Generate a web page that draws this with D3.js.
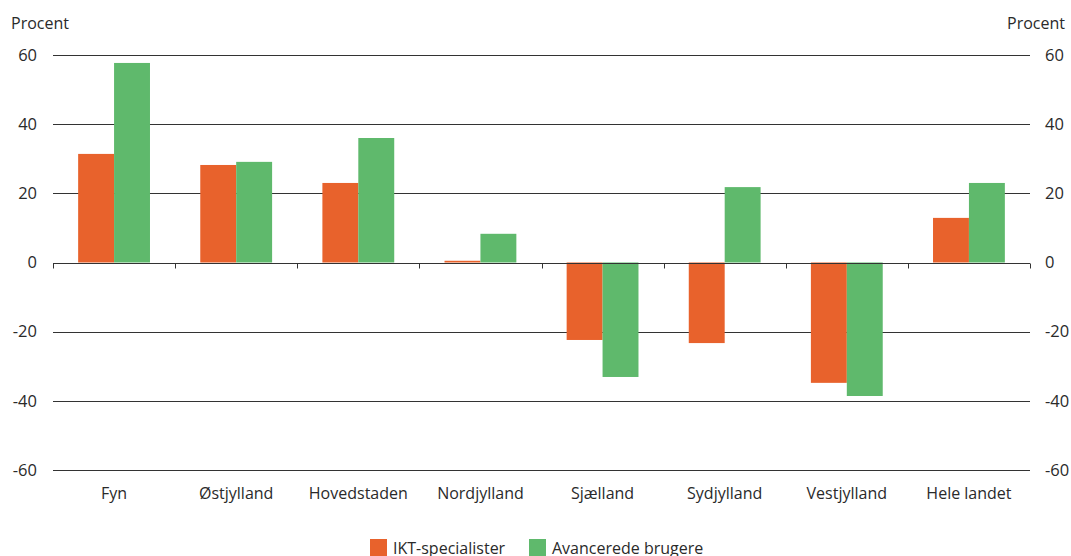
<!DOCTYPE html>
<html>
<head>
<meta charset="utf-8">
<script src="https://cdn.jsdelivr.net/npm/d3@7"></script>
<style>
  body { margin: 0; background: #fff; }
  svg text { font-family: "Open Sans", "Noto Sans", sans-serif; fill: #2a2a2a; }
</style>
</head>
<body>
<div id="chart"></div>
<script>
const regions = ["Fyn", "Østjylland", "Hovedstaden", "Nordjylland", "Sjælland", "Sydjylland", "Vestjylland", "Hele landet"];
const ikt = [31.4, 28.2, 23.0, 0.5, -22.4, -23.3, -34.8, 12.9];
const avanceret = [57.7, 29.1, 36.0, 8.3, -33.1, 21.8, -38.6, 23.0];
const seriesNames = ["IKT-specialister", "Avancerede brugere"];
const yTicks = [-60, -40, -20, 0, 20, 40, 60];

const width = 1071, height = 556,
  margin = {top: 55, bottom: 86, left: 53, right: 41};
const colors = ["#e8622c", "#5fb96c"];

const svg = d3.select("#chart").append("svg")
  .attr("width", width)
  .attr("height", height);

const x = d3.scaleBand()
  .domain(regions)
  .range([margin.left, width - margin.right])
  .paddingInner(0)
  .paddingOuter(0);

const inner = d3.scaleBand()
  .domain([0, 1])
  .range([0, x.bandwidth()])
  .paddingOuter(0.7)
  .paddingInner(0);

const y = d3.scaleLinear()
  .domain([-60, 60])
  .range([height - margin.bottom, margin.top]);

// gridlines
svg.append("g")
  .selectAll("line")
  .data(yTicks)
  .join("line")
  .attr("x1", margin.left)
  .attr("x2", width - margin.right)
  .attr("y1", d => Math.round(y(d)) + 0.5)
  .attr("y2", d => Math.round(y(d)) + 0.5)
  .attr("stroke", "#333")
  .attr("stroke-width", 1);

// left and right tick labels
svg.append("g")
  .selectAll("text")
  .data(yTicks)
  .join("text")
  .attr("x", 37)
  .attr("y", d => y(d))
  .attr("dy", "0.35em")
  .attr("text-anchor", "end")
  .style("font-size", "16.5px")
  .text(d => d);

svg.append("g")
  .selectAll("text")
  .data(yTicks)
  .join("text")
  .attr("x", 1045)
  .attr("y", d => y(d))
  .attr("dy", "0.35em")
  .attr("text-anchor", "start")
  .style("font-size", "16.5px")
  .text(d => d);

svg.append("text")
  .attr("x", 11).attr("y", 29)
  .style("font-size", "16px")
  .text("Procent");
svg.append("text")
  .attr("x", 1065).attr("y", 29)
  .attr("text-anchor", "end")
  .style("font-size", "16px")
  .text("Procent");

// bars
const data = regions.map((r, i) => ({region: r, values: [ikt[i], avanceret[i]]}));

const groups = svg.append("g")
  .selectAll("g")
  .data(data)
  .join("g")
  .attr("transform", d => `translate(${x(d.region)},0)`);

groups.selectAll("rect")
  .data(d => d.values.map((v, k) => ({k, v})))
  .join("rect")
  .attr("x", d => inner(d.k))
  .attr("width", inner.bandwidth())
  .attr("y", d => y(Math.max(0, d.v)))
  .attr("height", d => Math.abs(y(d.v) - y(0)))
  .attr("fill", d => colors[d.k]);

// zero axis with ticks at band edges
const zeroY = Math.round(y(0)) + 0.5;
svg.append("line")
  .attr("x1", margin.left).attr("x2", width - margin.right)
  .attr("y1", zeroY).attr("y2", zeroY)
  .attr("stroke", "#333");

const edges = regions.map(r => x(r)).concat([x(regions[regions.length - 1]) + x.bandwidth()]);
svg.append("g")
  .selectAll("line")
  .data(edges)
  .join("line")
  .attr("x1", d => Math.round(d) + 0.5)
  .attr("x2", d => Math.round(d) + 0.5)
  .attr("y1", zeroY)
  .attr("y2", zeroY + 5)
  .attr("stroke", "#333");

// category labels
svg.append("g")
  .selectAll("text")
  .data(regions)
  .join("text")
  .attr("x", d => x(d) + x.bandwidth() / 2)
  .attr("y", 499)
  .attr("text-anchor", "middle")
  .style("font-size", "16px")
  .text(d => d);

// legend
const legend = svg.append("g");
const legendX = [370, 529];
seriesNames.forEach((name, i) => {
  legend.append("rect")
    .attr("x", legendX[i]).attr("y", 539)
    .attr("width", 17).attr("height", 17)
    .attr("fill", colors[i]);
  legend.append("text")
    .attr("x", legendX[i] + 23).attr("y", 554)
    .style("font-size", "16px")
    .text(name);
});
</script>
</body>
</html>
